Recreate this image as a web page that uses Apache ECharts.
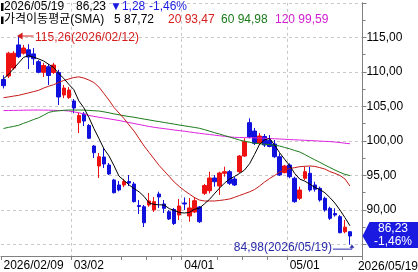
<!DOCTYPE html>
<html><head><meta charset="utf-8">
<script src="https://cdn.jsdelivr.net/npm/echarts@6/dist/echarts.min.js"></script>
<style>html,body{margin:0;padding:0;background:#fff}#c{width:418px;height:272px}</style>
</head><body><div id="c"></div>
<script>
// ---- data ----
const dates = ['2026/02/09','2026/02/10','2026/02/11','2026/02/12','2026/02/13','2026/02/17','2026/02/18','2026/02/19','2026/02/20','2026/02/23','2026/02/24','2026/02/25','2026/02/26','2026/02/27',
'2026/03/02','2026/03/03','2026/03/04','2026/03/05','2026/03/06','2026/03/09','2026/03/10','2026/03/11','2026/03/12','2026/03/13','2026/03/16','2026/03/17','2026/03/18','2026/03/19','2026/03/20','2026/03/23','2026/03/24','2026/03/25','2026/03/26','2026/03/27','2026/03/30','2026/03/31',
'2026/04/01','2026/04/02','2026/04/06','2026/04/07','2026/04/08','2026/04/09','2026/04/10','2026/04/13','2026/04/14','2026/04/15','2026/04/16','2026/04/17','2026/04/20','2026/04/21','2026/04/22','2026/04/23','2026/04/24','2026/04/27','2026/04/28','2026/04/29','2026/04/30',
'2026/05/01','2026/05/04','2026/05/05','2026/05/06','2026/05/07','2026/05/08','2026/05/11','2026/05/12','2026/05/13','2026/05/14','2026/05/15','2026/05/18','2026/05/19'];
const open = [108.9,109.4,110.55,113.9,112.7,113.2,112.6,111.47,109.93,110.74,109.9,109.9,106.65,106.28,105.78,102.64,103.9,102.23,99.26,96.37,97.67,96.51,94.34,93.62,93.62,94.12,93.76,90.65,90.47,90.72,90.0,92.31,90.87,89.75,90.07,89.27,91.01,89.13,89.71,90.43,92.41,92.79,94.63,93.47,95.31,95.54,94.48,95.54,97.81,102.64,101.43,99.7,100.64,100.06,99.55,97.71,95.4,96.51,94.59,91.69,94.59,95.31,93.62,93.14,91.69,90.24,89.49,89.03,86.85,86.85];
const close = [108.0,112.7,112.7,112.2,113.45,112.15,111.9,109.93,110.92,109.47,110.99,106.36,107.66,107.37,104.76,103.68,102.88,100.38,98.29,97.71,96.66,95.21,92.5,92.9,94.12,93.9,91.2,90.5,88.16,91.3,91.2,91.88,90.24,88.69,88.04,90.58,90.87,90.29,91.34,88.3,93.54,94.63,94.09,95.35,95.54,93.86,93.62,97.81,99.89,100.57,99.65,100.71,99.41,99.19,97.71,95.06,96.37,94.82,91.2,92.89,95.54,92.89,93.0,91.44,90.0,88.79,89.27,86.71,87.51,86.23];
const low = [107.6,109.1,110.3,112.0,112.5,110.4,111.0,109.8,109.25,108.1,109.7,105.2,106.2,106.07,104.0,101.14,102.16,100.28,97.53,94.63,96.08,95.06,92.4,92.7,93.3,93.47,91.08,89.42,87.53,90.47,89.71,90.29,89.56,88.55,87.82,88.55,90.0,88.3,89.56,88.11,92.17,92.41,93.37,92.17,94.82,93.62,93.47,95.35,97.67,100.38,99.41,99.41,99.12,99.07,97.53,94.92,95.31,94.59,91.05,91.44,94.34,92.65,92.65,91.2,89.75,88.55,89.03,86.62,86.62,84.98];
const high = [109.5,112.9,113.0,115.26,113.9,114.0,113.45,111.7,111.3,111.13,111.3,110.3,108.1,107.8,106.07,104.1,104.18,102.45,99.41,98.25,98.97,96.8,94.5,94.2,94.5,95.06,94.05,91.45,90.72,92.46,91.88,92.65,91.44,90.0,90.29,91.59,91.81,91.73,91.88,90.58,93.76,95.54,95.06,95.54,96.27,95.79,94.77,97.96,100.38,103.27,101.87,101.14,101.0,100.85,100.13,98.2,96.51,96.76,94.82,93.37,96.27,96.27,94.09,93.37,91.92,90.47,90.24,89.27,88.55,86.9];
const sma5 = [109.0,109.64,110.47,111.28,112.1,112.34,112.12,111.87,111.57,111.09,110.63,109.76,109.06,108.2,107.43,105.8,104.8,103.4,101.8,100.35,98.86,97.84,96.42,94.9,94.28,93.63,93.1,92.63,91.95,91.02,90.8,90.75,90.72,90.2,89.93,89.65,89.56,89.64,90.1,90.25,90.87,91.52,92.34,93.15,93.88,94.47,94.85,95.28,95.79,96.69,98.05,99.51,100.13,100.36,99.38,98.29,97.32,96.42,95.28,94.47,94.18,93.73,93.27,92.96,92.5,91.8,91.0,90.0,88.9,87.72];
const sma20 = [106.26,106.37,106.49,106.6,106.78,106.96,107.14,107.33,107.65,107.92,108.14,108.48,108.75,108.96,109.18,109.28,109.1,108.82,108.46,107.8,106.86,105.92,104.84,104.04,103.24,102.3,101.43,100.35,99.26,98.32,97.38,96.44,95.64,94.85,94.05,93.4,92.82,92.31,91.81,91.44,91.3,91.3,91.3,91.37,91.47,91.59,91.83,92.1,92.36,92.63,92.96,93.47,94.05,94.56,94.99,95.5,95.79,96.0,96.13,96.27,96.32,96.37,96.31,96.13,95.93,95.57,95.3,95.0,94.5,93.47];
const sma60 = [101.8,101.96,102.1,102.26,102.55,102.81,103.1,103.35,103.72,104.13,104.29,104.36,104.43,104.47,104.47,104.47,104.46,104.42,104.37,104.33,104.21,104.07,103.92,103.78,103.65,103.53,103.43,103.29,103.16,103.04,102.91,102.8,102.67,102.55,102.43,102.3,102.19,102.07,101.96,101.83,101.64,101.42,101.2,101.0,100.78,100.57,100.35,100.13,99.96,99.8,99.67,99.58,99.52,99.47,99.36,99.26,99.05,98.86,98.61,98.4,98.03,97.63,97.26,96.9,96.51,96.15,95.79,95.45,95.16,94.98];
const sma120 = [104.39,104.4,104.42,104.43,104.45,104.46,104.47,104.47,104.46,104.45,104.43,104.4,104.39,104.33,104.21,104.07,103.9,103.69,103.55,103.43,103.32,103.2,103.08,102.95,102.81,102.66,102.52,102.38,102.23,102.09,101.97,101.87,101.78,101.68,101.58,101.49,101.41,101.3,101.2,101.1,101.01,100.93,100.84,100.75,100.67,100.58,100.52,100.49,100.48,100.45,100.44,100.41,100.38,100.35,100.31,100.28,100.24,100.2,100.16,100.13,100.09,100.05,100.02,99.97,99.94,99.9,99.84,99.76,99.67,99.59];
const yTicks = [90,95,100,105,110,115];
const labelIdx = [0,14,36,57];
const tickIdx = [0,14,24,29,34,36,43,48,53,57,68];
const vGridIdx = [14,36,57];
const lastClose = 86.23, chg = -1.28, chgPct = -1.46;
const maLast = {5:87.72, 20:93.47, 60:94.98, 120:99.59};

// ---- chart ----
const FONT = '"Liberation Sans", Arial, "Noto Sans CJK KR", sans-serif';
const UP = '#ee1111', DN = '#1111dd';
const C20 = '#c41818', C60 = '#1a7a1a', C120 = '#dd22dd';
const fmt = v => v.toFixed(2).replace('.', ',');
const cats = dates.concat(['', '']);
const chart = echarts.init(document.getElementById('c'), null, {renderer: 'canvas'});
const ohlc = open.map((o, i) => [o, close[i], low[i], high[i]]);
const lineS = (d, c) => ({type: 'line', data: d, symbol: 'none', silent: true, xAxisIndex: 0, yAxisIndex: 0,
  lineStyle: {color: c, width: 1}, z: 3});
chart.setOption({
  animation: false,
  grid: [{left: 1, right: 55.5, top: 2.8, bottom: 27.5}, {left: 1, right: 55.5, top: 2.8, bottom: 15.3}],
  xAxis: [
    {type: 'category', data: cats, gridIndex: 0, show: false, boundaryGap: true},
    {type: 'category', data: cats, gridIndex: 1, boundaryGap: true,
      axisLine: {lineStyle: {color: '#808080'}},
      axisTick: {show: true, interval: i => tickIdx.includes(i), length: 4, lineStyle: {color: '#808080'}},
      axisLabel: {interval: i => labelIdx.includes(i), formatter: (v, i) => i === 0 ? v : v.slice(5),
        align: 'left', margin: 4, color: '#000', fontSize: 12, fontFamily: FONT},
      splitLine: {show: true, interval: i => vGridIdx.includes(i), lineStyle: {color: '#c8c8c8', type: [3, 3]}}}
  ],
  yAxis: [
    {type: 'value', gridIndex: 0, position: 'right', min: 85, max: 120, interval: 5, scale: true,
      axisLine: {show: false},
      axisTick: {show: true, length: 4, lineStyle: {color: '#808080'}},
      minorTick: {show: true, splitNumber: 2, length: 3, lineStyle: {color: '#808080'}},
      axisLabel: {margin: 4, formatter: v => yTicks.includes(v) ? fmt(v) : '', color: '#000', fontSize: 12, fontFamily: FONT},
      splitLine: {show: true, lineStyle: {color: '#c8c8c8', type: [3, 3]}}},
    {type: 'value', gridIndex: 1, position: 'right', min: 0, max: 1,
      axisLine: {show: true, lineStyle: {color: '#808080'}}, axisTick: {show: false},
      axisLabel: {show: false}, splitLine: {show: false}}
  ],
  series: [
    {type: 'candlestick', data: ohlc, xAxisIndex: 0, yAxisIndex: 0, barWidth: 4, clip: false, silent: true,
      itemStyle: {color: UP, color0: DN, borderColor: UP, borderColor0: DN, borderWidth: 1}},
    lineS(sma120, C120), lineS(sma60, C60), lineS(sma20, C20), lineS(sma5, '#000')
  ]
});

const P = (i, v) => chart.convertToPixel({xAxisIndex: 0, yAxisIndex: 0}, [i, v]);
const iMax = high.indexOf(Math.max(...high));
const iMin = low.indexOf(Math.min(...low));
const ph = P(iMax, high[iMax]);
const pl = P(iMin, low[iMin]);
const pc = P(close.length - 1, lastClose);
const axisX = 362.5;
const txt = (x, y, t, fill, align) => ({type: 'text', silent: true, z: 100,
  style: {x: x, y: y, text: t, fill: fill, font: '12px ' + FONT, align: align || 'left', verticalAlign: 'middle'}});
const RED = '#d41c1c', NAVY = '#2a2aa8', BLUE = '#1a1ae0';
const g = [
  {type: 'rect', shape: {x: 1, y: 3, width: 2.5, height: 8}, style: {fill: '#000'}, z: 100},
  txt(4, 7, dates[dates.length - 1], '#000'),
  txt(76, 7, fmt(lastClose), '#000'),
  txt(110, 7, '\u25BC' + fmt(Math.abs(chg)), BLUE),
  txt(149, 7, '-' + fmt(Math.abs(chgPct)) + '%', BLUE),
  {type: 'rect', shape: {x: 1, y: 16.5, width: 2.5, height: 7.5}, style: {fill: '#000'}, z: 100},
  txt(4, 20, '가격이동평균(SMA)', '#000'),
  txt(114, 20, '5 ' + fmt(maLast[5]), '#000'),
  txt(168, 20, '20 ' + fmt(maLast[20]), RED),
  txt(221, 20, '60 ' + fmt(maLast[60]), C60),
  txt(275, 20, '120 ' + fmt(maLast[120]), '#d21bd2'),
  // max annotation
  {type: 'line', shape: {x1: ph[0] + 1, y1: ph[1] + 0.5, x2: ph[0] + 15, y2: ph[1] + 0.5}, style: {stroke: RED, lineWidth: 1}, z: 100},
  {type: 'polygon', shape: {points: [[ph[0] - 1.5, ph[1] + 0.5], [ph[0] + 4, ph[1] - 3], [ph[0] + 4, ph[1] + 4]]}, style: {fill: RED}, z: 100},
  txt(ph[0] + 16.5, ph[1] + 2, fmt(high[iMax]) + '(' + dates[iMax] + ')', RED),
  // min annotation
  txt(pl[0] - 18, pl[1] + 3.5, fmt(low[iMin]) + '(' + dates[iMin] + ')', NAVY, 'right'),
  {type: 'polyline', shape: {points: [[pl[0] - 17, pl[1] + 4.5], [pl[0] + 2, pl[1] + 4.5], [pl[0] + 2, pl[1] + 1]]}, style: {stroke: NAVY, lineWidth: 1, fill: null}, z: 100},
  {type: 'polygon', shape: {points: [[pl[0] + 2, pl[1]], [pl[0] - 0.5, pl[1] + 3], [pl[0] + 4.5, pl[1] + 3]]}, style: {fill: NAVY}, z: 100},
  // price tag
  {type: 'polygon', shape: {points: [[axisX, pc[1]], [axisX + 7, pc[1] - 14], [420, pc[1] - 14], [420, pc[1] + 12], [axisX + 7, pc[1] + 12]]}, style: {fill: BLUE}, z: 90},
  txt(393, pc[1] - 7, fmt(lastClose), '#fff', 'center'),
  txt(393, pc[1] + 5.5, '-' + fmt(Math.abs(chgPct)) + '%', '#fff', 'center'),
  // last date label
  txt(418, 266.5, dates[dates.length - 1], '#000', 'right')
];
chart.setOption({graphic: g});
</script></body></html>
